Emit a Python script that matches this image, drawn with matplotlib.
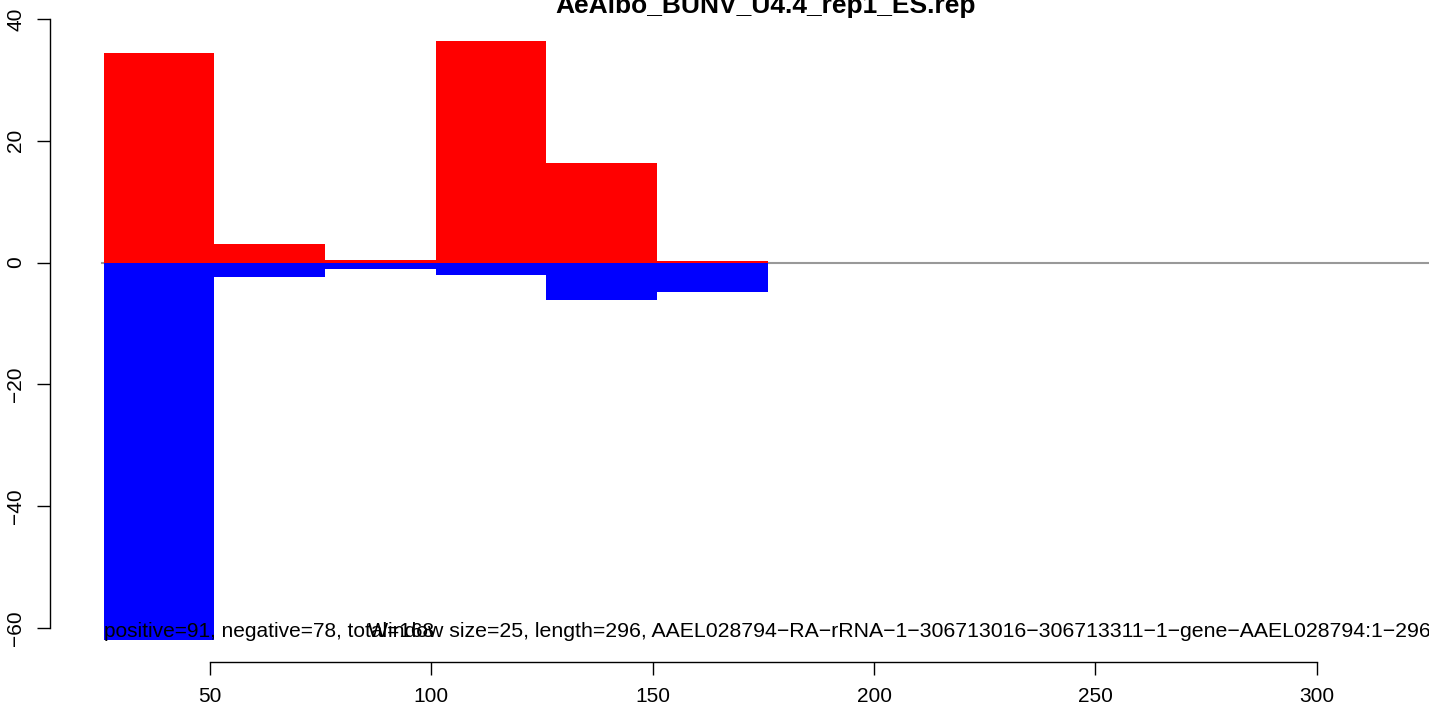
import numpy as np
import matplotlib
matplotlib.use("Agg")
import matplotlib.pyplot as plt

plt.rcParams['font.family'] = ['Liberation Sans', 'DejaVu Sans']

# window starts (bp) and averaged signal per strand
win_start = [26, 51, 76, 101, 126, 151]
win_size = 25
pos_vals = [34.4, 3.1, 0.4, 36.4, 16.4, 0.2]
neg_vals = [-61.9, -2.4, -1.0, -2.0, -6.1, -4.9]

title = "AeAlbo_BUNV_U4.4_rep1_ES.rep"
counts_txt = "positive=91, negative=78, total=168"
info_txt = ("Window size=25, length=296, "
            "AAEL028794\u2212RA\u2212rRNA\u22121\u2212306713016\u2212306713311\u22121\u2212gene\u2212AAEL028794:1\u2212296")

W, H = 1429, 710
fig = plt.figure(figsize=(W / 100, H / 100), dpi=100)
ax = fig.add_axes([50 / W, 65 / H, (W - 50) / W, 645 / H])

xpx = 4.4268  # px per bp
ypx = 6.09    # px per unit
ax.set_xlim(50 + (50 - 210) / xpx, 50 + (W - 210) / xpx)
ax.set_ylim(-(645 - 262.6) / ypx, 262.6 / ypx)

# zero line
ax.plot([win_start[0] - 0.5, 400], [0, 0], color='#999999', lw=1.5, zorder=1)

ax.bar(win_start, pos_vals, width=win_size, align='edge', color='#ff0000', lw=0, zorder=2)
ax.bar(win_start, neg_vals, width=win_size, align='edge', color='#0000ff', lw=0, zorder=2)

fs = 15
ax.text(win_start[0], -60.5, counts_txt, fontsize=fs, ha='left', va='center', zorder=5)
ax.text(85.7, -60.5, info_txt, fontsize=15.3, ha='left', va='center', zorder=5, clip_on=False)

fig.text(766 / W, 1 - 13 / H, title, fontsize=19, fontweight='bold', ha='center', va='baseline')

for s in ['top', 'right']:
    ax.spines[s].set_visible(False)
ax.spines['bottom'].set_position(('outward', 12.2))
ax.spines['bottom'].set_bounds(50, 300)
ax.spines['left'].set_bounds(-60, 40)
for s in ['bottom', 'left']:
    ax.spines[s].set_linewidth(1.0)

ax.set_xticks([50, 100, 150, 200, 250, 300])
ax.set_yticks([-60, -40, -20, 0, 20, 40])
ax.tick_params(axis='both', length=9.4, width=1.0, labelsize=fs, pad=8.5)
ax.tick_params(axis='y', labelrotation=90)
ax.set_yticklabels(['\u221260', '\u221240', '\u221220', '0', '20', '40'])
for lab in ax.get_yticklabels():
    lab.set_va('center')

fig.savefig('out.png', dpi=100)
